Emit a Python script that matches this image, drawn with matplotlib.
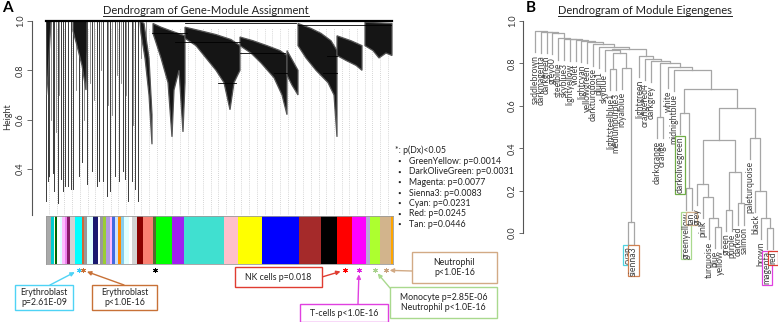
import numpy as np
import matplotlib
matplotlib.use("Agg")
import matplotlib.pyplot as plt
from matplotlib.patches import Rectangle, Polygon
from matplotlib.lines import Line2D

plt.rcParams["font.family"] = ["Lato", "DejaVu Sans"]

W, H = 778, 322

# ---------------- panel A data ----------------
# module colour bar, left to right (width in gene-order units)
module_names = ["darkgrey", "darkturquoise", "lightyellow", "darkgreen", "white", "lightcyan",
                "plum1", "violet", "darkmagenta", "lightgrey", "cyan", "sienna3", "grey60",
                "lightcyan", "midnightblue", "white", "grey60", "yellowgreen", "mediumpurple3",
                "plum1", "royalblue", "lightsteelblue1", "darkorange", "skyblue", "lightcyan",
                "white", "lightgrey", "darkred", "salmon", "darkolivegreen", "green", "purple",
                "turquoise", "pink", "yellow", "blue", "brown", "black", "red", "magenta",
                "grey", "greenyellow", "tan", "orange"]
module_hex = ["#A9A9A9", "#00CED1", "#FFFFE0", "#006400", "#FFFFFF", "#E0FFFF",
              "#FFBBFF", "#EE82EE", "#8B1A6B", "#D3D3D3", "#00FFFF", "#CD6839", "#999999",
              "#E0FFFF", "#191970", "#FFFFFF", "#999999", "#9ACD32", "#B09AE0",
              "#FFBBFF", "#4169E1", "#CAE1FF", "#FF8C00", "#87CEEB", "#E0FFFF",
              "#FFFFFF", "#D3D3D3", "#8B0000", "#FA8072", "#556B2F", "#00FF00", "#A020F0",
              "#40E0D0", "#FFC0CB", "#FFFF00", "#0000FF", "#A52A2A", "#000000", "#FF0000",
              "#FF00FF", "#B8A8D8", "#ADFF2F", "#D2B48C", "#FFA500"]
module_width = [5, 3, 1, 2, 3, 2, 3, 2, 3, 5, 7, 2, 3, 6, 5, 2, 3, 3, 4, 2, 3, 3, 3, 3, 5,
                3, 5, 6, 10, 3, 16, 12, 40, 14, 24, 37, 22, 16, 15, 14, 4, 10, 11, 2]

# modules with p(Dx) < 0.05 (asterisks under the bar)
star_modules = ["cyan", "sienna3", "darkolivegreen", "red", "magenta", "greenyellow", "tan"]
star_colors = ["#33CCFF", "#C87137", "#000000", "#FF0000", "#E020E0", "#A9D18E", "#C9A27E"]

legend_names = ["GreenYellow", "DarkOliveGreen", "Magenta", "Sienna3", "Cyan", "Red", "Tan"]
legend_p = ["0.0014", "0.0031", "0.0077", "0.0083", "0.0231", "0.0245", "0.0446"]

annot_text = ["Erythroblast\np=2.61E-09", "Erythroblast\np<1.0E-16", "NK cells p=0.018",
              "T-cells p<1.0E-16", "Neutrophil\np<1.0E-16",
              "Monocyte p=2.85E-06\nNeutrophil p<1.0E-16"]
annot_module = ["cyan", "sienna3", "red", "magenta", "tan", "greenyellow"]
annot_edge = ["#4FD3F5", "#C87137", "#E03C31", "#E040E0", "#D2AA85", "#A9D98E"]

# gene tree: long thin branches on the left (x, lowest height)
thin_x = [0, 2.3, 3.3, 6.7, 8.3, 11.7, 15, 16.7, 19.3, 22.3, 25, 26.7, 32.7, 35.7, 41.3,
          45.7, 50.7, 53.3, 57.3, 60.7, 64, 69, 73.3, 76.7, 79, 82.3, 85.7, 89, 92.3]
thin_low = [0.27, 0.35, 0.37, 0.385, 0.31, 0.26, 0.36, 0.31, 0.33, 0.33, 0.32, 0.32, 0.37,
            0.43, 0.34, 0.39, 0.33, 0.35, 0.35, 0.29, 0.31, 0.37, 0.35, 0.39, 0.36, 0.27,
            0.35, 0.32, 0.27]
short_x = [5, 10, 13, 30, 38, 44, 48, 55, 62, 66, 71, 75, 80, 87, 95, 100]
short_low = [0.6, 0.55, 0.7, 0.72, 0.6, 0.75, 0.68, 0.8, 0.66, 0.62, 0.78, 0.75, 0.7, 0.58,
             0.85, 0.8]

# dense module sub-trees, outline (x, height)
tree_masses = [
    [(0, 1.0), (5, 1.0), (4, 0.93), (2, 0.78), (0.5, 0.7)],
    [(27, 1.0), (41, 1.0), (41, 0.88), (40, 0.72), (36, 0.82), (31, 0.9), (27, 0.96)],
    [(94, 1.0), (98, 0.99), (103, 0.85), (106, 0.62), (106, 0.5), (103, 0.7), (99, 0.85), (95, 0.95)],
    [(107, 0.99), (115, 0.975), (125, 0.96), (139, 0.94), (139, 0.75), (137, 0.55),
     (133, 0.8), (128, 0.72), (126, 0.53), (122, 0.75), (115, 0.85), (107, 0.95)],
    [(139, 0.975), (155, 0.96), (170, 0.945), (185, 0.925), (194, 0.9), (194, 0.8),
     (188, 0.75), (184, 0.64), (178, 0.75), (170, 0.8), (160, 0.85), (150, 0.9), (139, 0.93)],
    [(194, 0.935), (207, 0.92), (221, 0.9), (234, 0.88), (241, 0.86), (241, 0.62),
     (236, 0.7), (228, 0.77), (215, 0.83), (205, 0.87), (194, 0.9)],
    [(241, 0.88), (252, 0.8), (252, 0.70), (246, 0.74), (241, 0.78)],
    [(252, 0.99), (265, 0.97), (275, 0.95), (285, 0.92), (291, 0.88), (291, 0.53),
     (288, 0.7), (282, 0.75), (270, 0.8), (260, 0.85), (252, 0.9)],
    [(291, 0.94), (305, 0.92), (316, 0.9), (316, 0.8), (310, 0.82), (300, 0.84), (291, 0.86)],
    [(319, 0.995), (346, 0.99), (346, 0.86), (340, 0.87), (333, 0.85), (327, 0.88), (319, 0.9)],
]
merge_lines = [(106, 141, 0.95), (129, 194, 0.915), (194, 239, 0.87), (281, 291, 0.86),
               (277, 291, 0.79), (228, 241, 0.79), (172, 190, 0.75), (252, 345, 0.985),
               (139, 250, 0.99)]

# ---------------- panel B data ----------------
leaf_order = ["saddlebrown", "darkmagenta", "darkgreen", "grey60", "steelblue", "skyblue3",
              "lightyellow", "violet", "lightcyan", "yellowgreen", "darkturquoise", "plum1",
              "skyblue", "lightsteelblue1", "mediumpurple3", "royalblue", "cyan", "sienna3",
              "lightgreen", "orangered4", "darkgrey", "darkorange", "orange", "white",
              "midnightblue", "darkolivegreen", "greenyellow", "tan", "grey", "pink",
              "turquoise", "blue", "yellow", "green", "purple", "darkred", "salmon",
              "paleturquoise", "black", "brown", "magenta", "red"]
merges = [  # (node, left, right, height)
    ("m1", "blue", "yellow", 0.03), ("m2", "turquoise", "m1", 0.07),
    ("m3", "pink", "m2", 0.17), ("m4", "grey", "m3", 0.23),
    ("m5", "green", "purple", 0.11), ("m6", "darkred", "salmon", 0.14),
    ("m7", "m5", "m6", 0.29), ("m8", "m4", "m7", 0.44),
    ("m9", "magenta", "red", 0.025), ("m10", "brown", "m9", 0.07),
    ("m11", "black", "m10", 0.20), ("m12", "paleturquoise", "m11", 0.45),
    ("m13", "m8", "m12", 0.59), ("m14", "greenyellow", "tan", 0.21),
    ("m15", "darkolivegreen", "m14", 0.566), ("m16", "m15", "m13", 0.68),
    ("m17", "midnightblue", "m16", 0.77), ("m18", "white", "m17", 0.785),
    ("m19", "darkorange", "orange", 0.547), ("m20", "m19", "m18", 0.80),
    ("m21", "darkgrey", "m20", 0.81), ("m22", "orangered4", "m21", 0.82),
    ("m23", "lightgreen", "m22", 0.836),
    ("n1", "cyan", "sienna3", 0.05), ("n2", "royalblue", "n1", 0.78),
    ("n3", "lightsteelblue1", "mediumpurple3", 0.775), ("n4", "n3", "n2", 0.85),
    ("n5", "skyblue", "n4", 0.863), ("n6", "n5", "m23", 0.87),
    ("L12", "plum1", "n6", 0.876), ("L11", "darkturquoise", "L12", 0.89),
    ("L10", "yellowgreen", "L11", 0.90), ("L9", "lightcyan", "L10", 0.906),
    ("L8", "violet", "L9", 0.91), ("L7", "lightyellow", "L8", 0.913),
    ("L6", "skyblue3", "L7", 0.915), ("L5", "steelblue", "L6", 0.918),
    ("L4", "grey60", "L5", 0.942), ("L3", "darkgreen", "L4", 0.948),
    ("L2", "darkmagenta", "L3", 0.95), ("L1", "saddlebrown", "L2", 0.953),
]
boxed_leaves = {"cyan": "#4FD3E0", "sienna3": "#D08050", "darkolivegreen": "#70AD47",
                "greenyellow": "#A9D98E", "tan": "#D2B08C", "magenta": "#E040E0",
                "red": "#E03C31"}


def fig_frac(x, y_top):
    return x / W, 1 - y_top / H


fig = plt.figure(figsize=(W / 100, H / 100), dpi=100)

# ---- A: gene dendrogram ----
axd = fig.add_axes([46 / W, 1 - 215 / H, 347 / W, 197 / H])
axd.set_xlim(0, 347)
axd.set_ylim(0.213, 1.0122)
for gx in np.arange(3, 347, 7.7):
    axd.plot([gx, gx], [0.213, 0.97], color="#C8C8C8", lw=0.6, ls=(0, (1, 1.5)), zorder=1)
for x, lo in zip(short_x, short_low):
    axd.plot([x, x], [lo, 0.998], color="#808080", lw=0.6, zorder=2)
for x, lo in zip(thin_x, thin_low):
    axd.plot([x, x], [lo, 0.998], color="#3A3A3A", lw=0.7, zorder=2)
for pts in tree_masses:
    axd.add_patch(Polygon(pts, closed=True, fc="#151515", ec="#555555", lw=0.9, zorder=3))
for x0, x1, h in merge_lines:
    axd.plot([x0, x1], [h, h], color="black", lw=0.6, zorder=3)
axd.plot([0, 346], [0.999, 0.999], color="black", lw=1.6, zorder=4, clip_on=False)

for s in ["top", "right", "bottom"]:
    axd.spines[s].set_visible(False)
axd.spines["left"].set_position(("outward", 10))
axd.spines["left"].set_bounds(0.213, 1.0)
axd.spines["left"].set_color("#555555")
axd.set_xticks([])
axd.set_yticks([0.4, 0.6, 0.8, 1.0])
axd.set_yticklabels(["0.4", "0.6", "0.8", "1.0"], rotation=90, va="center", fontsize=6.5,
                    color="#333333")
axd.tick_params(axis="y", length=3.5, width=0.6, pad=1.5, color="#555555")
axd.set_ylabel("Height", fontsize=6.5, color="#333333", labelpad=3)

# ---- A: module colour bar ----
axc = fig.add_axes([46 / W, 1 - 264 / H, 347 / W, 48 / H])
axc.set_xlim(0, 347)
axc.set_ylim(0, 1)
starts = np.concatenate([[0], np.cumsum(module_width)[:-1]])
axc.bar(starts, 1, width=module_width, align="edge", color=module_hex, edgecolor="none")
axc.set_xticks([])
axc.set_yticks([])
for s in axc.spines.values():
    s.set_color("#9A9A9A")
    s.set_linewidth(0.6)

star_x = {}
for name, col in zip(star_modules, star_colors):
    i = module_names.index(name)
    cx = starts[i] + module_width[i] / 2
    star_x[name] = cx
    axc.plot(cx, -0.13, marker=(6, 2, 0), ms=3.5, mew=0.7, color=col, clip_on=False)

# legend text
fig.text(*fig_frac(395, 150), "*: p(Dx)<0.05", fontsize=6.3, va="center", color="#222222")
for k, (nm, p) in enumerate(zip(legend_names, legend_p)):
    yy = 161.5 + k * 10.5
    fig.text(*fig_frac(397, yy), "\u2022", fontsize=4.5, va="center", color="#222222")
    fig.text(*fig_frac(409, yy), f"{nm}: p={p}", fontsize=6.3, va="center", color="#222222")

# annotation boxes (x0, y_top, width, height, arrow start x, arrow start y) in pixels
box_layout = [(15, 285, 58, 25, 50, 285), (92, 285, 65, 25, 124, 285),
              (235, 267, 87, 20, 322, 277), (300, 304, 88, 18, 358, 304),
              (412, 252, 85, 31, 412, 271), (390, 287, 107, 31, 390, 288)]
for txt, mod, ec, (bx, by, bw, bh, sx, sy) in zip(annot_text, annot_module, annot_edge, box_layout):
    fig.add_artist(Rectangle(fig_frac(bx, by + bh), bw / W, bh / H, transform=fig.transFigure,
                             fc="white", ec=ec, lw=1.0))
    fig.text(*fig_frac(bx + bw / 2, by + bh / 2), txt, ha="center", va="center", fontsize=6.3,
             color="#222222", linespacing=1.25)
    axc.annotate("", xy=(star_x[mod], -0.13), xycoords="data",
                 xytext=fig_frac(sx, sy), textcoords="figure fraction",
                 arrowprops=dict(arrowstyle="-|>", color=ec, lw=1.0, mutation_scale=6,
                                 shrinkA=0, shrinkB=3), annotation_clip=False)

# ---- B: eigengene dendrogram ----
axb = fig.add_axes([529 / W, 1 - 233 / H, 249 / W, 212 / H])
axb.set_xlim(-1.03, 41.9)
axb.set_ylim(0, 1)
hang = 0.1
kids = {n: (a, b, h) for n, a, b, h in merges}
parent_h = {}


def xpos(n):
    if n in kids:
        a, b, _ = kids[n]
        return (xpos(a) + xpos(b)) / 2
    return leaf_order.index(n)


for n, (a, b, h) in kids.items():
    xa, xb = xpos(a), xpos(b)
    ya = kids[a][2] if a in kids else h - hang
    yb = kids[b][2] if b in kids else h - hang
    for c in (a, b):
        if c not in kids:
            parent_h[c] = h
    axb.plot([xa, xa, xb, xb], [ya, h, h, yb], color="#A6A6A6", lw=0.9, clip_on=False)

for i, leaf in enumerate(leaf_order):
    y = parent_h[leaf] - hang - 0.012
    kw = {}
    if leaf in boxed_leaves:
        kw["bbox"] = dict(boxstyle="square,pad=0.08", fc="white", ec=boxed_leaves[leaf], lw=0.9)
    axb.text(i, y, leaf, rotation=90, ha="center", va="top", fontsize=6.2,
             color="#404040", clip_on=False, **kw)

for s in ["top", "right", "bottom"]:
    axb.spines[s].set_visible(False)
axb.spines["left"].set_position(("outward", 4.3))
axb.spines["left"].set_color("#555555")
axb.set_xticks([])
axb.set_yticks([0.0, 0.2, 0.4, 0.6, 0.8, 1.0])
axb.set_yticklabels(["0.0", "0.2", "0.4", "0.6", "0.8", "1.0"], rotation=90, va="center",
                    fontsize=6.5, color="#333333")
axb.tick_params(axis="y", length=3, width=0.6, pad=1.5, color="#555555")

# ---- titles and panel letters ----
tA = fig.text(*fig_frac(206, 10), "Dendrogram of Gene-Module Assignment", ha="center",
              va="center", fontsize=8, color="#222222")
tB = fig.text(*fig_frac(645, 10), "Dendrogram of Module Eigengenes", ha="center",
              va="center", fontsize=8, color="#222222")
fig.text(*fig_frac(2, 8), "A", fontsize=11, fontweight="bold", va="center")
fig.text(*fig_frac(526, 8), "B", fontsize=11, fontweight="bold", va="center")

fig.canvas.draw()
for t in (tA, tB):
    bb = t.get_window_extent()
    fig.add_artist(Line2D([bb.x0, bb.x1], [bb.y0 - 0.5, bb.y0 - 0.5], transform=None,
                          color="#222222", lw=0.7))

fig.savefig("out.png", dpi=100)
